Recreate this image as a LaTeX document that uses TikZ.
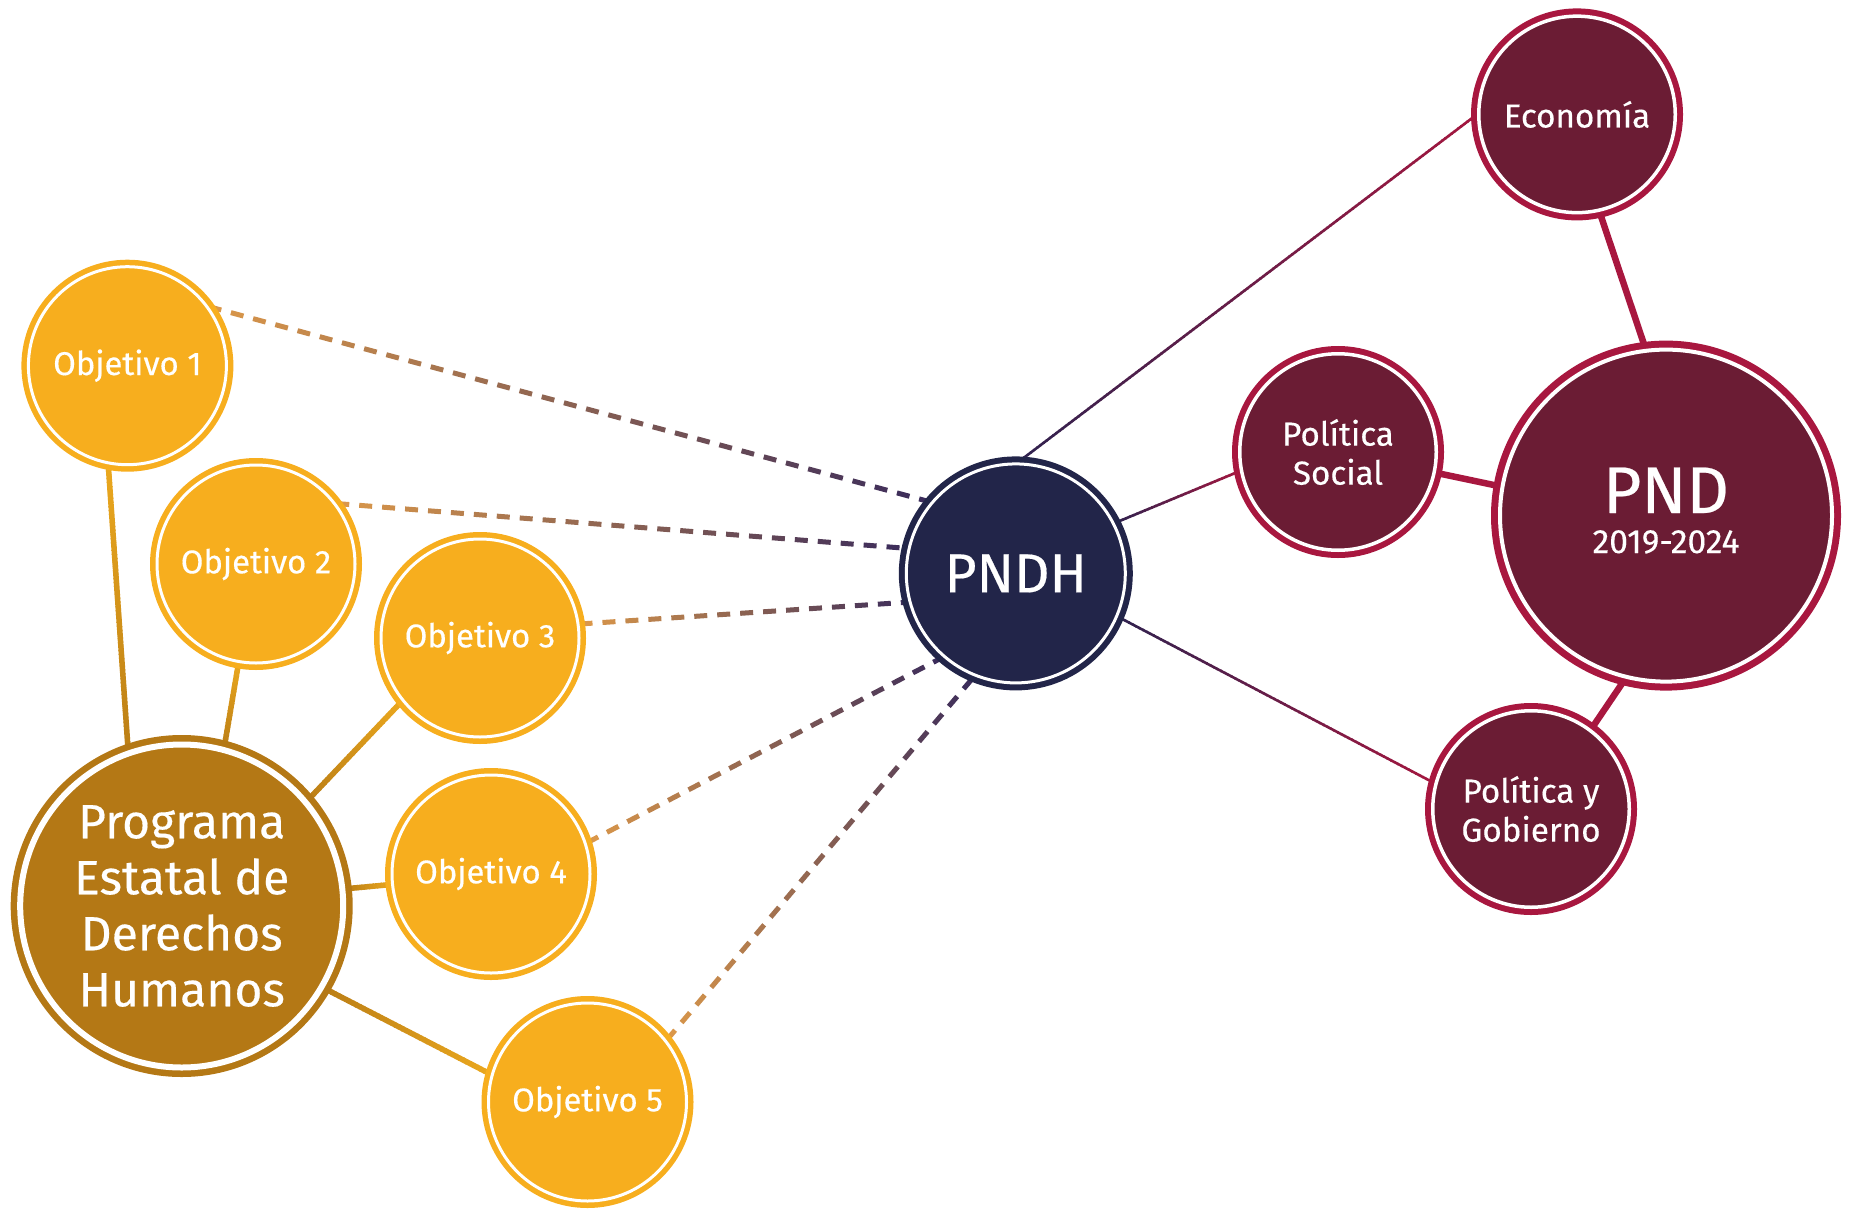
\documentclass[tikz,border=0pt]{standalone}
\usepackage{fontspec}
\setmainfont{Fira Sans}[FakeBold=0.35]
\usetikzlibrary{backgrounds,decorations.markings}
\definecolor{objc}{HTML}{F7AE1E}
\definecolor{progc}{HTML}{B47815}
\definecolor{navyc}{HTML}{222549}
\definecolor{maroonc}{HTML}{6B1C34}
\definecolor{crimc}{HTML}{A8173F}
\definecolor{dashA}{HTML}{DA974A}
\definecolor{dashB}{HTML}{382A5B}
\definecolor{goldA}{HTML}{BC7F16}
\definecolor{goldB}{HTML}{EBA81E}
\definecolor{thinA}{HTML}{30224F}
\definecolor{thinB}{HTML}{A5173F}
\tikzset{
  objbub/.style={circle, inner sep=0pt, minimum size=99pt, fill=objc, draw=white, line width=1.5pt,
    preaction={draw=objc, line width=7pt}, text=white, font=\fontsize{16.4}{19}\selectfont, align=center},
  progbub/.style={circle, inner sep=0pt, minimum size=161.5pt, fill=progc, draw=white, line width=3pt,
    preaction={draw=progc, line width=9.5pt}, text=white, font=\fontsize{24}{28}\selectfont, align=center},
  pndhbub/.style={circle, inner sep=0pt, minimum size=109.5pt, fill=navyc, draw=white, line width=1.5pt,
    preaction={draw=navyc, line width=7.5pt}, text=white, font=\fontsize{27.5}{30}\selectfont, align=center},
  pndbub/.style={circle, inner sep=0pt, minimum size=166pt, fill=maroonc, draw=white, line width=2pt,
    preaction={draw=crimc, line width=9pt}, text=white, font=\fontsize{33}{36}\selectfont,
    text height=23pt, text depth=25.6pt},
  yeartext/.style={inner sep=0pt, text=white, font=\fontsize{16.8}{18.5}\selectfont, anchor=base},
  marbub/.style={circle, inner sep=0pt, minimum size=98.25pt, fill=maroonc, draw=white, line width=1.75pt,
    preaction={draw=crimc, line width=7.75pt}, text=white, font=\fontsize{16.6}{19.5}\selectfont, align=center},
  gdash/.style 2 args={decoration={markings,
      mark=between positions 0 and 1 step 11.5pt with {%
        \pgfmathsetmacro\gp{\pgfkeysvalueof{/pgf/decoration/mark info/distance from start}/\pgfdecoratedpathlength*100}%
        \colorlet{gcol}{#2!\gp!#1}%
        \fill[gcol] (0pt,-1.25pt) rectangle (6.5pt,1.25pt);}},
    postaction={decorate}},
  gline/.style n args={3}{decoration={markings,
      mark=between positions 0 and 1 step 2pt with {%
        \pgfmathsetmacro\gp{\pgfkeysvalueof{/pgf/decoration/mark info/distance from start}/\pgfdecoratedpathlength*100}%
        \colorlet{gcol}{#2!\gp!#1}%
        \fill[gcol] (0pt,-#3/2) rectangle (2.5pt,#3/2);}},
    postaction={decorate}},
  crimline/.style={draw=crimc, line width=3.25pt},
}
\begin{document}
\begin{tikzpicture}[x=0.5pt,y=-0.5pt]
\useasboundingbox (0,0) rectangle (1850,1209);
\node[objbub] (o1) at (127.4,365.7) {Objetivo 1};
\node[objbub] (o2) at (256,564) {Objetivo 2};
\node[objbub] (o3) at (480,638) {Objetivo 3};
\node[objbub] (o4) at (491,874) {Objetivo 4};
\node[objbub] (o5) at (587.5,1102) {Objetivo 5};
\node[progbub] (prog) at (181.7,906) {Programa\\Estatal de\\Derechos\\Humanos};
\node[pndhbub] (p) at (1015.8,573.4) {PNDH};
\node[marbub] (econ) at (1577,114.4) {Economía};
\node[marbub] (ps) at (1338,452) {Política\\Social};
\node[marbub] (pyg) at (1531,809) {Política y\\Gobierno};
\node[pndbub] (pnd) at (1666,515.6) {PND};
\node[yeartext] (pndyear) at (1666,553) {2019-2024};
\begin{scope}[on background layer]
  \path[gline={goldA}{goldB}{2.75pt}] (prog.109.4) -- (o1.-101.6);
  \path[gline={goldA}{goldB}{2.75pt}] (prog.75.6) -- (o2.-100);
  \path[gline={goldA}{goldB}{2.75pt}] (prog.40.8) -- (o3.-141);
  \path[gline={goldA}{goldB}{2.75pt}] (prog.6.3) -- (o4.186);
  \path[gline={goldA}{goldB}{2.75pt}] (prog.-30.4) -- (o5.164.6);
  \path[gdash={dashA}{dashB}] (o1.36) -- (p.140);
  \path[gdash={dashA}{dashB}] (o2.37) -- (p.167.7);
  \path[gdash={dashA}{dashB}] (o3.8.8) -- (p.-165.7);
  \path[gdash={dashA}{dashB}] (o4.18) -- (p.-131.6);
  \path[gdash={dashA}{dashB}] (o5.38.9) -- (p.-112.1);
  \path[gline={thinA}{thinB}{1.3pt}] (p.89.4) -- (econ.180);
  \path[gline={thinA}{thinB}{1.3pt}] (p.27) -- (ps.191);
  \path[gline={thinA}{thinB}{1.3pt}] (p.-23) -- (pyg.165);
  \draw[crimline] (econ.-77.8) -- (pnd.97);
  \draw[crimline] (ps.-12.5) -- (pnd.170);
  \draw[crimline] (pyg.53) -- (pnd.-104.5);
\end{scope}
\end{tikzpicture}
\end{document}
